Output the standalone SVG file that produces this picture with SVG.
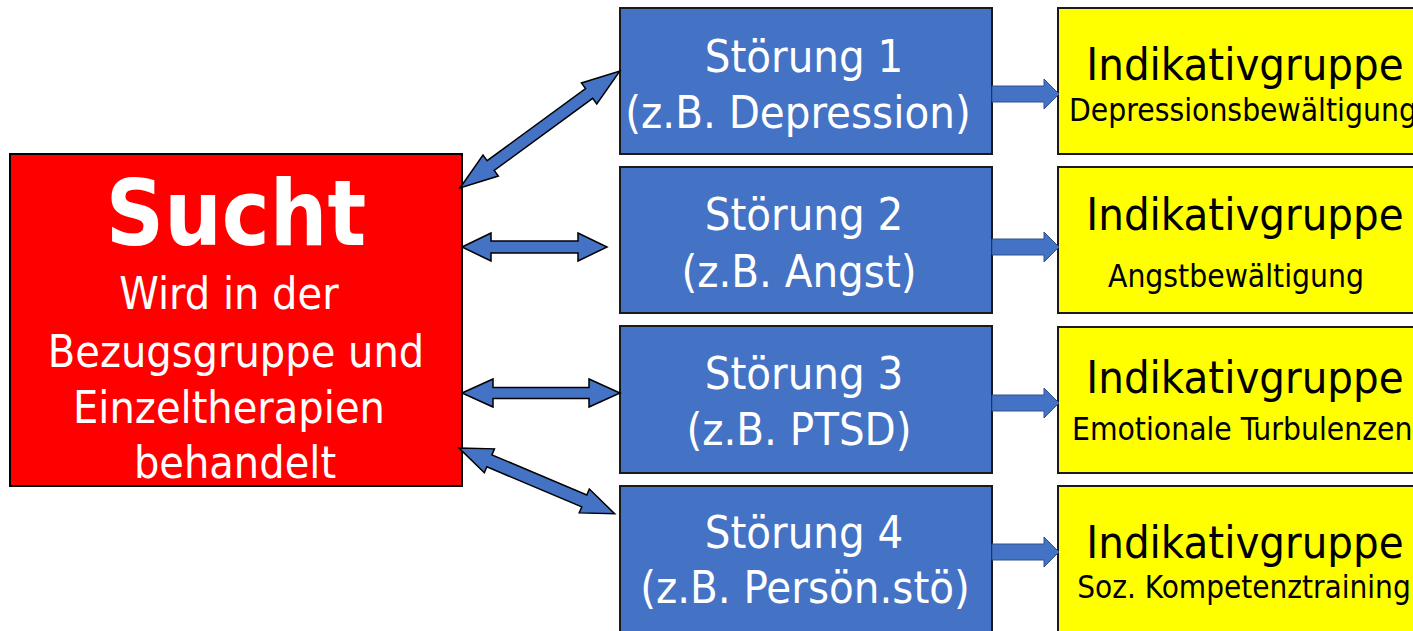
<svg xmlns="http://www.w3.org/2000/svg" xmlns:xlink="http://www.w3.org/1999/xlink" width="1413" height="631" viewBox="0 0 1413 631">
<style>
.red{fill:#FF0000;stroke:#000;stroke-width:2}
.blue{fill:#4472C4;stroke:#1a1a1a;stroke-width:2}
.yel{fill:#FFFF00;stroke:#1a1a1a;stroke-width:2}
.wt{fill:#fff;font-family:"DejaVu Sans Condensed","Liberation Sans",Arial,sans-serif;text-anchor:middle}
.bt{fill:#000;font-family:"DejaVu Sans Condensed","Liberation Sans",Arial,sans-serif}
.mid{text-anchor:middle}
.dbl{fill:#4472C4;stroke:#000;stroke-width:1.5;stroke-linejoin:miter}
.sm{fill:#4472C4;stroke:#2F528F;stroke-width:1}
</style>
<defs>
<path id="smarrow" d="M0,-8 L52,-8 L52,-15 L67,0 L52,15 L52,8 L0,8 Z"/>
</defs>
<rect width="1413" height="631" fill="#fff"/>
<g id="sucht">
<rect class="red" x="10" y="154" width="452" height="332"/>
<text class="wt" x="236" y="245" font-size="90" font-weight="bold">Sucht</text>
<text class="wt" x="229" y="309" font-size="44.5">Wird in der</text>
<text class="wt" x="236" y="367" font-size="44.5">Bezugsgruppe und</text>
<text class="wt" x="229" y="423" font-size="44.5">Einzeltherapien</text>
<text class="wt" x="235" y="478" font-size="44.5">behandelt</text>
</g>
<g id="stoerung1">
<rect class="blue" x="620" y="8" width="372" height="146"/>
<text class="wt" x="804" y="72" font-size="45">Störung 1</text>
<text class="wt" x="798" y="128" font-size="45">(z.B. Depression)</text>
</g>
<g id="stoerung2">
<rect class="blue" x="620" y="167" width="372" height="146"/>
<text class="wt" x="804" y="230" font-size="45">Störung 2</text>
<text class="wt" x="799" y="287" font-size="45">(z.B. Angst)</text>
</g>
<g id="stoerung3">
<rect class="blue" x="620" y="326" width="372" height="147"/>
<text class="wt" x="804" y="389" font-size="45">Störung 3</text>
<text class="wt" x="799" y="445" font-size="45">(z.B. PTSD)</text>
</g>
<g id="stoerung4">
<rect class="blue" x="620" y="486" width="372" height="150"/>
<text class="wt" x="804" y="548" font-size="45">Störung 4</text>
<text class="wt" x="805" y="603" font-size="45">(z.B. Persön.stö)</text>
</g>
<g id="indikativ1">
<rect class="yel" x="1058" y="8" width="400" height="146"/>
<text class="bt mid" x="1245" y="80" font-size="45">Indikativgruppe</text>
<text class="bt" x="1069" y="121" font-size="31.5">Depressionsbewältigung</text>
</g>
<g id="indikativ2">
<rect class="yel" x="1058" y="167" width="400" height="146"/>
<text class="bt mid" x="1245" y="230" font-size="45">Indikativgruppe</text>
<text class="bt mid" x="1236" y="287" font-size="31.5">Angstbewältigung</text>
</g>
<g id="indikativ3">
<rect class="yel" x="1058" y="327" width="400" height="146"/>
<text class="bt mid" x="1245" y="393" font-size="45">Indikativgruppe</text>
<text class="bt" x="1072" y="440" font-size="31.5">Emotionale Turbulenzen</text>
</g>
<g id="indikativ4">
<rect class="yel" x="1058" y="486" width="400" height="150"/>
<text class="bt mid" x="1244" y="598" font-size="31.2">Soz. Kompetenztraining</text>
<text class="bt mid" x="1245" y="558" font-size="45">Indikativgruppe</text>
</g>
<g id="connectors">
<path class="dbl" transform="translate(460,188) rotate(-36.2)" d="M0,0 L38,-13 L38,-6 L160,-6 L160,-13 L198,0 L160,13 L160,6 L38,6 L38,13 Z"/>
<path class="dbl" transform="translate(462,247)" d="M0,0 L29,-14 L29,-6 L116,-6 L116,-14 L145,0 L116,14 L116,6 L29,6 L29,14 Z"/>
<path class="dbl" transform="translate(462,393)" d="M0,0 L31,-14 L31,-5.5 L127,-5.5 L127,-14 L158,0 L127,14 L127,5.5 L31,5.5 L31,14 Z"/>
<path class="dbl" transform="translate(459,448) rotate(22.9)" d="M0,0 L33,-13 L33,-6.5 L136,-6.5 L136,-13 L169,0 L136,13 L136,6.5 L33,6.5 L33,13 Z"/>
<use xlink:href="#smarrow" class="sm" transform="translate(992,94)"/>
<use xlink:href="#smarrow" class="sm" transform="translate(992,247)"/>
<use xlink:href="#smarrow" class="sm" transform="translate(992,403)"/>
<use xlink:href="#smarrow" class="sm" transform="translate(992,552)"/>
</g>
</svg>
